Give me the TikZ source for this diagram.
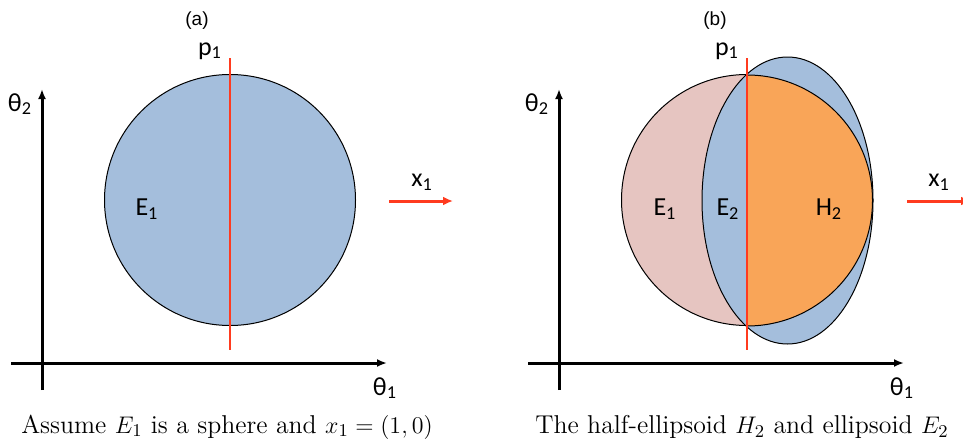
\documentclass[tikz,border=0pt]{standalone}
\usepackage{fontspec}
\newfontfamily\lblfont{Carlito}
\newfontfamily\tagfont{Liberation Sans}
\usepackage{xcolor}
\usepackage{tikz}
\usetikzlibrary{arrows.meta}
\definecolor{EllBlue}{HTML}{A4BEDC}
\definecolor{SphPink}{HTML}{E6C5C1}
\definecolor{HalfOrange}{HTML}{F9A558}
\definecolor{CutRed}{HTML}{FF3B1F}

\begin{document}
\begin{tikzpicture}[x=0.5pt,y=-0.5pt,
 lbl/.style={font=\lblfont\fontsize{13}{15}\selectfont,inner sep=0pt},
 tag/.style={font=\tagfont\fontsize{9.5}{11}\selectfont,inner sep=0pt},
 capt/.style={font=\fontsize{12.9}{15}\selectfont,inner sep=0pt},
 axis/.style={line width=1.5pt,-{Latex[length=5pt,width=4pt]}},
 outl/.style={draw=black,line width=0.5pt},
 cut/.style={CutRed,line width=1pt},
 dir/.style={CutRed,line width=1.5pt,-{Latex[length=5pt,width=4.5pt]}}]
\useasboundingbox (0,0) rectangle (963,439);

% (a) the sphere E1
\coordinate (a-c) at (230,200);
\draw[outl,fill=EllBlue] (a-c) circle[radius=62.75pt];
\coordinate (a-pt) at (230,58);
\coordinate (a-pb) at (230,350);
\draw[cut] (a-pt) -- (a-pb);
\coordinate (a-yb) at (42,390);
\coordinate (a-yt) at (42,89);
\coordinate (a-xl) at (11,363);
\coordinate (a-xr) at (387,363);
\draw[axis] (a-yb) -- (a-yt);
\draw[axis] (a-xl) -- (a-xr);
\coordinate (a-d0) at (389,201);
\coordinate (a-d1) at (453,201);
\draw[dir] (a-d0) -- (a-d1);
\node[tag] (a-tag) at (197,21) {(a)};
\node[lbl] (a-p) at (210,51) {p\textsubscript{1}};
\node[lbl] (a-E1) at (147,209) {E\textsubscript{1}};
\node[lbl] (a-t2) at (20,104) {θ\textsubscript{2}};
\node[lbl] (a-t1) at (385,388) {θ\textsubscript{1}};
\node[lbl] (a-x1) at (422,182) {x\textsubscript{1}};
\node[capt] (a-cap) at (227,427) {Assume $E_1$ is a sphere and $x_1=(1,0)$};

% (b) half-ellipsoid H2 inside ellipsoid E2
\begin{scope}[shift={(517,0)}]
\coordinate (b-c) at (230,200);
\coordinate (b-e) at (270.5,200.5);
\draw[outl,fill=SphPink] (b-c) circle[radius=62.75pt];
\draw[outl,fill=EllBlue] (b-e) ellipse[x radius=42.75pt,y radius=71.75pt];
\coordinate (b-ht) at (230,75);
\draw[outl,fill=HalfOrange] (b-ht) arc[start angle=90,end angle=-90,radius=62.75pt] -- cycle;
\coordinate (b-pt) at (230,58);
\coordinate (b-pb) at (230,350);
\draw[cut] (b-pt) -- (b-pb);
\coordinate (b-yb) at (42,390);
\coordinate (b-yt) at (42,89);
\coordinate (b-xl) at (11,363);
\coordinate (b-xr) at (387,363);
\draw[axis] (b-yb) -- (b-yt);
\draw[axis] (b-xl) -- (b-xr);
\coordinate (b-d0) at (390,201);
\coordinate (b-d1) at (454,201);
\draw[dir] (b-d0) -- (b-d1);
\node[tag] (b-tag) at (198,21) {(b)};
\node[lbl] (b-p) at (210,51) {p\textsubscript{1}};
\node[lbl] (b-E1) at (148,209) {E\textsubscript{1}};
\node[lbl] (b-E2) at (211,209) {E\textsubscript{2}};
\node[lbl] (b-H2) at (312,209) {H\textsubscript{2}};
\node[lbl] (b-t2) at (20,104) {θ\textsubscript{2}};
\node[lbl] (b-t1) at (385,388) {θ\textsubscript{1}};
\node[lbl] (b-x1) at (422,182) {x\textsubscript{1}};
\node[capt] (b-cap) at (225,427) {The half-ellipsoid $H_2$ and ellipsoid $E_2$};
\end{scope}
\end{tikzpicture}
\end{document}
